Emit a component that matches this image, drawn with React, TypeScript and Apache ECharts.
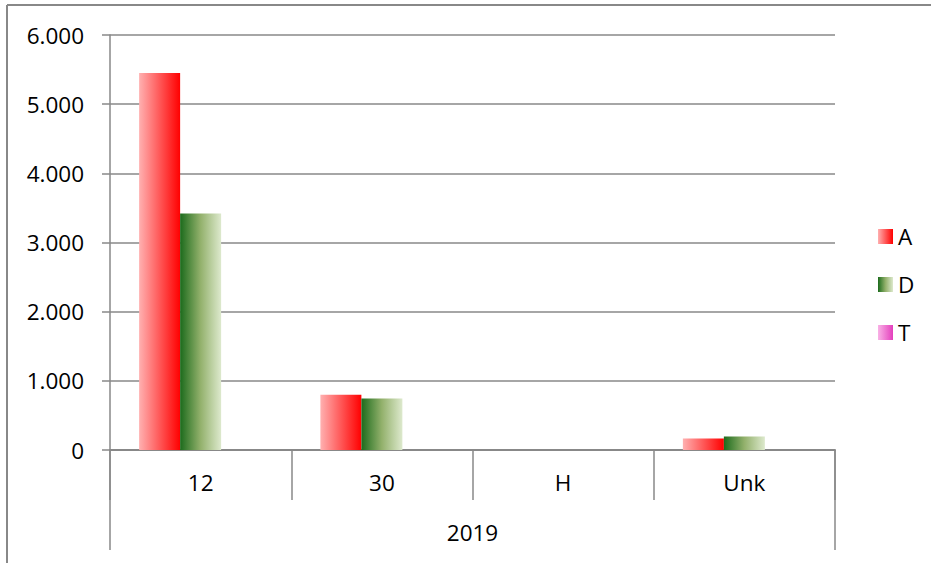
import React, { useEffect, useRef } from "react";
import * as echarts from "echarts";

const categories = ["12", "30", "H", "Unk"];
const groupLabels = ["2019"];
const seriesNames = ["A", "D", "T"];
const valuesA = [5450, 800, 0, 165];
const valuesD = [3420, 745, 0, 195];
const valuesT = [0, 0, 0, 0];
const yTicks = { min: 0, max: 6000, interval: 1000 };

const FONT = "Open Sans";
const FS = 22.5;

function grad(stops: [number, string][]) {
  return new echarts.graphic.LinearGradient(
    0, 0, 1, 0,
    stops.map(([offset, color]) => ({ offset, color }))
  );
}

export default function App() {
  const ref = useRef<HTMLDivElement>(null);
  useEffect(() => {
    if (!ref.current) return;
    const chart = echarts.init(ref.current, undefined, { renderer: "svg" });
    const gray = "#888888";
    const colA = grad([[0, "#ffb0b0"], [1, "#ff0000"]]);
    const colD = grad([[0, "#1c6b1c"], [0.5, "#93b16c"], [1, "#dde9cd"]]);
    const colT = grad([[0, "#f9b2e6"], [1, "#e43fbd"]]);
    const fmt = (v: number) =>
      String(v).replace(/\B(?=(\d{3})+(?!\d))/g, ".");
    chart.setOption({
      animation: false,
      textStyle: { fontFamily: FONT },
      grid: { left: 110, right: 96, top: 35, bottom: 113, containLabel: false },
      graphic: [
        { type: "line", shape: { x1: 7, y1: 5, x2: 931, y2: 5 }, style: { stroke: gray, lineWidth: 2 } },
        { type: "line", shape: { x1: 7, y1: 5, x2: 7, y2: 563 }, style: { stroke: gray, lineWidth: 2 } },
      ],
      legend: {
        orient: "vertical",
        left: 873,
        top: 220,
        itemWidth: 15,
        itemHeight: 15,
        itemGap: 25,
        icon: "rect",
        textStyle: { fontFamily: FONT, fontSize: FS, color: "#000", lineHeight: 22, padding: [0, 0, 0, 0] },
        data: seriesNames,
      },
      xAxis: [
        {
          type: "category",
          data: categories,
          position: "bottom",
          axisLine: { show: true, lineStyle: { color: gray, width: 2 } },
          axisTick: { show: true, length: 50, lineStyle: { color: gray, width: 1.5 } },
          axisLabel: { margin: 21, fontSize: FS, color: "#000", fontFamily: FONT },
        },
        {
          type: "category",
          data: groupLabels,
          position: "bottom",
          axisLine: { show: false },
          axisTick: { show: true, length: 100, lineStyle: { color: gray, width: 1.5 } },
          axisLabel: { margin: 71, fontSize: FS, color: "#000", fontFamily: FONT },
        },
      ],
      yAxis: {
        type: "value",
        min: yTicks.min,
        max: yTicks.max,
        interval: yTicks.interval,
        axisLine: { show: true, lineStyle: { color: gray, width: 1.5 } },
        axisTick: { show: true, length: 8, lineStyle: { color: gray, width: 1.5 } },
        axisLabel: { margin: 26, fontSize: FS, color: "#000", fontFamily: FONT, formatter: fmt },
        splitLine: { show: true, lineStyle: { color: gray, width: 1.5 } },
      },
      series: [
        { name: "A", type: "bar", data: valuesA, barWidth: 41, barGap: "0%", itemStyle: { color: colA } },
        { name: "D", type: "bar", data: valuesD, barWidth: 41, barGap: "0%", itemStyle: { color: colD } },
        { name: "T", type: "bar", data: valuesT, barWidth: 41, barGap: "0%", itemStyle: { color: colT } },
      ],
    });
    return () => chart.dispose();
  }, []);
  return (
    <div
      ref={ref}
      style={{ position: "absolute", left: 0, top: 0, width: 931, height: 563, background: "#fff" }}
    />
  );
}
